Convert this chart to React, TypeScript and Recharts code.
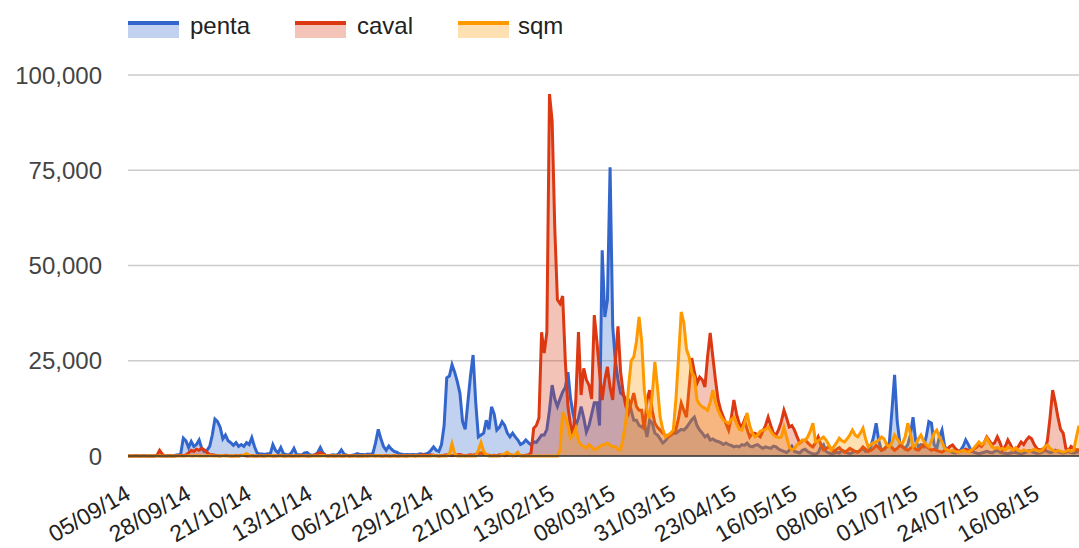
import { AreaChart, Area, XAxis, YAxis, CartesianGrid, ReferenceLine } from 'recharts';

// daily counts, starting 05/09/14
const PENTA = [
  0, 0, 0, 100, 0, 0, 100, 0, 0, 0,
  0, 100, 0, 0, 0, 100, 0, 0, 200, 300,
  500, 4700, 4000, 2200, 3800, 2500, 3000, 4200, 2000, 1200,
  1500, 2500, 5500, 9700, 9000, 7500, 4500, 5500, 4000, 3500,
  2800, 3500, 2500, 3000, 2500, 3500, 3000, 4800, 2500, 800,
  500, 500, 400, 600, 500, 3000, 1500, 800, 2200, 600,
  400, 300, 800, 2000, 400, 300, 200, 800, 900, 300,
  200, 300, 900, 2200, 800, 200, 100, 200, 300,
  200, 600, 1600, 500, 200, 100, 200, 300, 600, 400,
  400, 300, 500, 400, 800, 3500, 7000, 4500, 2500, 1500,
  2600, 1800, 1200, 1000, 600, 500, 300, 400, 300, 400,
  300, 400, 600, 400, 500, 800, 1500, 2400, 1500, 1200,
  3000, 8000, 20500, 21000, 24000, 22000, 19500, 16500, 9000, 7000,
  14000, 21000, 26500, 14000, 5000, 5500, 6000, 9400, 7000, 12900,
  11000, 6800, 7500, 9000, 8000, 6000, 5000, 6000, 5000, 4200,
  3000, 3400, 4200, 3500, 2900, 3700, 3600, 4500, 5500,
  5500, 7000, 12000, 18600, 15000, 13000, 15000, 16800, 18000, 22000,
  15000, 11000, 8000, 10000, 13000, 10000, 6300, 8000, 11000, 14000,
  14000, 8000, 54000, 36500, 41000, 75800, 34000, 25000, 20000, 16500,
  16000, 14700, 14700, 12000, 9400, 9400, 8000, 7600, 8600, 5000,
  9400, 8600, 6000, 5500, 4500, 3400, 4000, 5000, 5500, 6000,
  6000, 6500, 7000, 6800, 7500, 8500, 9500, 10200, 8000, 6800,
  6000, 5000, 5500, 4200, 4500, 4000, 3800, 3500, 3000, 3400,
  3000, 2800, 2400, 2600, 2400, 3000, 2800, 3400, 2600, 2400,
  2800, 3000, 2400, 2000, 2400, 2200, 2000, 2600, 2400, 1800,
  1500, 1200, 900, 1500, 2500, 1200, 1000, 800, 1500, 1800,
  1200, 800, 600, 500, 900, 2400, 3000, 1200, 800, 600,
  700, 1000, 800, 1500, 1200, 800, 600, 900, 1200,
  1000, 1500, 2000, 1200, 1500, 2500, 5000, 8600, 4000, 1500,
  1800, 2500, 3500, 12000, 21300, 9000, 3500, 2500, 2000, 3000,
  5500, 10200, 4000, 2500, 3000, 2500, 5000, 9000, 8600, 3000,
  2000, 5000, 6800, 2500, 1500, 1200, 1000, 800, 1000, 1500,
  2500, 4200, 3000, 1500, 1000, 800, 600, 800, 1000, 1200,
  1000, 800, 1200, 1500, 1000, 800, 700, 600, 800, 1000,
  900, 700, 600, 800, 1000, 1400, 1200, 900, 700,
  800, 1000, 1500, 1200, 900, 1100, 1500, 1200, 900, 800,
  1000, 1200, 900, 800, 1000, 1200,
];

const CAVAL = [
  0, 0, 0, 0, 0, 0, 0, 0, 0, 0,
  0, 200, 1500, 500, 0, 0, 100, 0, 0, 100,
  200, 100, 300, 800, 1500, 1200, 1800, 1500, 2000, 1600,
  900, 400, 300, 200, 100, 0, 100, 200, 100, 0,
  0, 100, 0, 200, 100, 0, 0, 100, 0, 0,
  100, 0, 0, 200, 100, 0, 0, 100, 200, 0,
  0, 100, 0, 0, 100, 0, 200, 100, 0, 0,
  100, 300, 600, 900, 500, 100, 0, 100, 0,
  0, 100, 0, 0, 200, 0, 0, 100, 0, 0,
  0, 100, 0, 200, 100, 0, 100, 0, 0, 100,
  0, 0, 100, 0, 0, 100, 0, 0, 200, 100,
  0, 100, 200, 300, 200, 100, 300, 200, 100, 0,
  100, 200, 300, 200, 100, 200, 300, 400, 200, 100,
  200, 300, 200, 400, 600, 800, 500, 300, 200, 100,
  200, 100, 300, 200, 100, 200, 300, 200, 100, 200,
  200, 100, 200, 300, 800, 7300, 8000, 10000, 32500,
  27000, 32500, 95000, 88000, 60000, 41000, 40000, 42000, 25000, 13000,
  8000, 5500, 15000, 32500, 16000, 23000, 20000, 18600, 15000, 37000,
  30000, 22000, 14700, 20000, 23400, 18000, 14700, 25000, 34000, 22000,
  16500, 13000, 11300, 14000, 16500, 13000, 12000, 12000, 6800, 14700,
  17300, 12000, 8600, 7500, 6800, 6000, 5500, 5000, 5500, 6000,
  7000, 10000, 13900, 12000, 10200, 18000, 25700, 22000, 19100, 20700,
  20000, 18100, 26000, 32300, 26000, 20000, 14700, 12000, 10200, 8500,
  6800, 10000, 14700, 11000, 8600, 7500, 9400, 7000, 5000, 6000,
  6000, 5500, 5000, 6500, 8000, 10200, 8000, 6000, 5500, 7000,
  9000, 12000, 10000, 7600, 8000, 6800, 5000, 3400, 4000, 4200,
  3500, 2800, 2400, 3500, 5000, 3000, 1600, 2000, 2400, 1800,
  1200, 1800, 2200, 1500, 1000, 1400, 2000, 1600, 1200,
  1000, 1500, 2400, 1800, 1200, 1500, 2000, 2800, 2200, 1500,
  1800, 2500, 3000, 2200, 1500, 2000, 2800, 2400, 1800, 1500,
  2000, 2500, 1800, 1500, 2200, 3000, 2500, 2000, 1500, 1800,
  1400, 1200, 1000, 1500, 1800, 2500, 2900, 2000, 1400, 1200,
  1500, 1800, 1400, 1200, 1800, 2200, 2900, 2500, 3500, 5000,
  4000, 3000, 3500, 5000, 3500, 1500, 2500, 4200, 3000, 1500,
  1800, 2500, 3700, 3000, 4200, 5000, 4500, 3000, 2000,
  1500, 1800, 1500, 4000, 10000, 17300, 14000, 10200, 7000, 6000,
  2000, 1500, 2500, 2000, 1500, 1800,
];

const SQM = [
  0, 0, 0, 0, 0, 0, 0, 0, 0, 0,
  0, 0, 0, 0, 0, 0, 0, 0, 0, 0,
  0, 0, 0, 100, 0, 0, 100, 0, 0, 0,
  0, 100, 0, 0, 0, 0, 100, 0, 0, 0,
  0, 0, 0, 100, 300, 600, 200, 0, 0, 0,
  0, 0, 0, 0, 0, 100, 0, 0, 0, 0,
  0, 0, 0, 0, 0, 0, 0, 0, 0, 0,
  0, 0, 0, 0, 100, 0, 0, 0, 0,
  0, 0, 0, 0, 0, 0, 0, 0, 0, 0,
  0, 0, 0, 0, 0, 0, 100, 0, 0, 0,
  0, 0, 0, 0, 0, 0, 0, 0, 0, 0,
  0, 0, 0, 0, 0, 0, 0, 100, 0, 0,
  0, 0, 0, 500, 3200, 600, 0, 0, 0, 0,
  0, 0, 0, 0, 1500, 3500, 1200, 400, 0, 0,
  0, 0, 0, 200, 600, 1000, 300, 0, 400, 1000,
  0, 0, 0, 0, 0, 0, 0, 0, 0,
  0, 0, 0, 0, 0, 0, 1500, 11500, 10000, 8000,
  4700, 5500, 7300, 4000, 2900, 2500, 2100, 3000, 2400, 1600,
  2000, 2400, 2900, 3000, 3400, 2800, 2400, 2400, 1800, 1600,
  5000, 9400, 18000, 25000, 26000, 30000, 36500, 30000, 17300, 12000,
  10000, 16000, 24700, 18000, 10200, 7000, 5000, 5500, 6000, 6800,
  15000, 26000, 37800, 35000, 28000, 26000, 22000, 20700, 14700, 13500,
  12900, 12500, 12000, 14000, 17300, 14000, 12000, 10500, 9400, 9000,
  8600, 9500, 10200, 8500, 7000, 6800, 8500, 11300, 8000, 6000,
  5000, 5500, 6500, 6800, 7000, 7600, 6500, 5500, 5000, 4800,
  5000, 7600, 5000, 2400, 1600, 2000, 3000, 3500, 4200, 4000,
  5000, 6500, 8600, 3700, 4000, 4500, 5000, 4200, 3000, 1600,
  2500, 3500, 4700, 4000, 3700, 4500, 5500, 6800, 5500,
  5000, 6000, 7300, 4500, 2400, 3000, 3500, 3700, 4200, 5000,
  4500, 3000, 2400, 3500, 5500, 4500, 3500, 3400, 5000, 8600,
  6000, 2400, 3000, 4500, 5500, 4000, 3000, 2400, 4000, 6000,
  6800, 5000, 3700, 2000, 1600, 1200, 1500, 1200, 1000, 1200,
  1500, 1200, 1000, 1500, 2000, 2800, 3700, 3000, 3500, 4700,
  3500, 2400, 2000, 2200, 1800, 2000, 1600, 2400, 2000, 1500,
  2200, 1500, 1200, 1600, 1400, 1200, 1500, 1800, 1500,
  1200, 1500, 2400, 2900, 2000, 1500, 1200, 1500, 1200, 1000,
  1200, 1600, 1200, 1500, 5000, 8000,
];

const TICK_DAYS = [0, 23, 46, 69, 92, 115, 138, 161, 184, 207, 230, 253, 276, 299, 322, 345];
const TICK_LABELS = [
  '05/09/14', '28/09/14', '21/10/14', '13/11/14', '06/12/14', '29/12/14', '21/01/15', '13/02/15',
  '08/03/15', '31/03/15', '23/04/15', '16/05/15', '08/06/15', '01/07/15', '24/07/15', '16/08/15',
];
const Y_TICKS = [0, 25000, 50000, 75000, 100000];

const SERIES = [
  { key: 'penta', color: '#3366cc', fill: '#c2d1f0' },
  { key: 'caval', color: '#dc3912', fill: '#f5c4b8' },
  { key: 'sqm', color: '#ff9900', fill: '#ffe0b3' },
];

const FONT = '"Liberation Sans", Arial, sans-serif';

const data = PENTA.map((v, i) => ({ day: i, penta: v, caval: CAVAL[i], sqm: SQM[i] }));
const LAST_DAY = PENTA.length - 1;

function SlantTick({ x, y, payload }: any) {
  const idx = TICK_DAYS.indexOf(payload.value);
  const tx = x + 4;
  const ty = y + 34;
  return (
    <text
      x={tx}
      y={ty}
      transform={`rotate(-30, ${tx}, ${ty})`}
      textAnchor="end"
      fontSize={23}
      fontFamily={FONT}
      fill="#222"
    >
      {TICK_LABELS[idx]}
    </text>
  );
}

const LEGEND_POS = [
  { icon: 128, text: 190 },
  { icon: 295, text: 357 },
  { icon: 458, text: 518 },
];

function Legend() {
  return (
    <svg width={700} height={50} style={{ position: 'absolute', left: 0, top: 0 }}>
      {SERIES.map((s, i) => (
        <g key={s.key}>
          <rect x={LEGEND_POS[i].icon} y={25} width={51} height={13} fill={s.fill} />
          <rect x={LEGEND_POS[i].icon} y={21} width={51} height={4} fill={s.color} />
          <text x={LEGEND_POS[i].text} y={34} fontSize={24} fontFamily={FONT} fill="#222">
            {s.key}
          </text>
        </g>
      ))}
    </svg>
  );
}

export default function App() {
  return (
    <div style={{ position: 'absolute', left: 0, top: 0, width: 1079, height: 548, background: '#fff' }}>
      <AreaChart width={1079} height={548} data={data} margin={{ top: 75, right: 0, bottom: 0, left: 0 }}>
        <CartesianGrid vertical={false} stroke="#cccccc" strokeWidth={1.5} />
        <XAxis
          type="number"
          dataKey="day"
          domain={[0, LAST_DAY]}
          ticks={TICK_DAYS}
          interval={0}
          height={92}
          axisLine={false}
          tickLine={false}
          tick={<SlantTick />}
        />
        <YAxis
          domain={[0, 100000]}
          ticks={Y_TICKS}
          width={128}
          axisLine={false}
          tickLine={false}
          tickSize={0}
          tickMargin={26}
          tickFormatter={(v: number) => v.toLocaleString('en-US')}
          tick={{ fontSize: 24, fontFamily: FONT, fill: '#444' }}
        />
        <ReferenceLine y={0} stroke="#333" strokeWidth={1.5} />
        {SERIES.map(s => (
          <Area
            key={s.key}
            type="linear"
            dataKey={s.key}
            stroke={s.color}
            strokeWidth={3}
            fill={s.color}
            fillOpacity={0.3}
            dot={false}
            activeDot={false}
            isAnimationActive={false}
          />
        ))}
      </AreaChart>
      <Legend />
    </div>
  );
}
